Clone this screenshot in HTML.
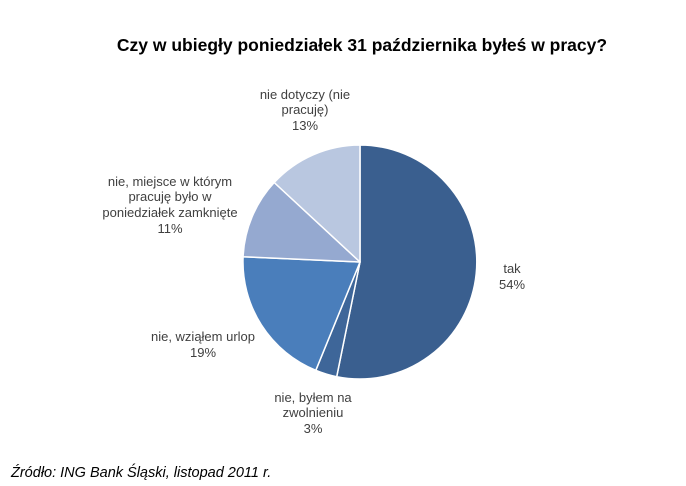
<!DOCTYPE html>
<html><head><meta charset="utf-8"><style>
body{margin:0;background:#fff;}
svg{display:block;font-family:"Liberation Sans",sans-serif;}
</style></head><body>
<svg width="686" height="486" viewBox="0 0 686 486" xmlns="http://www.w3.org/2000/svg">
<rect width="686" height="486" fill="#fff"/>
<text x="362" y="51" text-anchor="middle" font-size="17.5" font-weight="bold" fill="#000">Czy w ubiegły poniedziałek 31 października byłeś w pracy?</text>
<g stroke="#fff" stroke-width="1.5" stroke-linejoin="round">
<path d="M360,262 L360,145 A117,117 0 1 1 336.7,376.7 Z" fill="#3A5F8F"/>
<path d="M360,262 L336.7,376.7 A117,117 0 0 1 315.8,370.3 Z" fill="#3E6699"/>
<path d="M360,262 L315.8,370.3 A117,117 0 0 1 243.1,256.7 Z" fill="#4A7EBB"/>
<path d="M360,262 L243.1,256.7 A117,117 0 0 1 274.2,182.5 Z" fill="#95A9D0"/>
<path d="M360,262 L274.2,182.5 A117,117 0 0 1 360,145 Z" fill="#B9C7E0"/>
</g>
<g font-size="13" fill="#404040" text-anchor="middle">
<text x="305" y="99">nie dotyczy (nie</text>
<text x="305" y="114">pracuję)</text>
<text x="305" y="130">13%</text>
<text x="170" y="186">nie, miejsce w którym</text>
<text x="170" y="201">pracuję było w</text>
<text x="170" y="217">poniedziałek zamknięte</text>
<text x="170" y="233">11%</text>
<text x="512" y="273">tak</text>
<text x="512" y="289">54%</text>
<text x="203" y="341">nie, wziąłem urlop</text>
<text x="203" y="357">19%</text>
<text x="313" y="402">nie, byłem na</text>
<text x="313" y="417">zwolnieniu</text>
<text x="313" y="433">3%</text>
</g>
<text x="11" y="477" font-size="14.5" font-style="italic" fill="#000">Źródło: ING Bank Śląski, listopad 2011 r.</text>
</svg>
</body></html>
